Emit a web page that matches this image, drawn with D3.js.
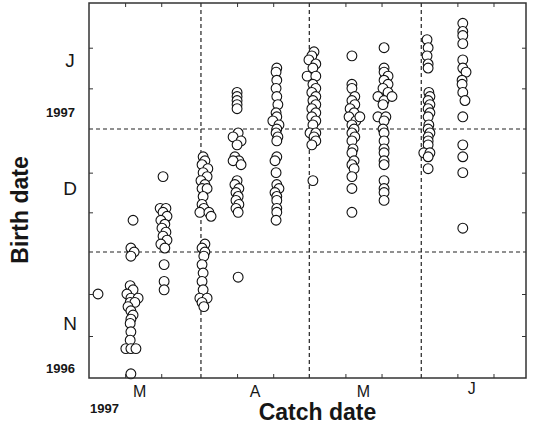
<!DOCTYPE html>
<html>
<head>
<meta charset="utf-8">
<script src="https://cdn.jsdelivr.net/npm/d3@7"></script>
<style>
  body { margin: 0; background: #fff; }
  svg { display: block; }
  text { font-family: "Liberation Sans", Arial, Helvetica, sans-serif; fill: #161616; }
</style>
</head>
<body>
<svg id="chart" width="533" height="434"></svg>
<script>
// Each fish: [catch day after 1 Mar 1997, birth day after 1 Jan 1997 (negative = 1996)]
const sampleMar03 = [[2.5,-41]];
const sampleMar12 = [[12.2,-23],[11.6,-30],[12.5,-31],[11.6,-32],[11.4,-39],[12.2,-40],[10.5,-41],[11.6,-42],[13.6,-42],[11.4,-43],[12.7,-43],[10.8,-44],[11.6,-45],[12.2,-46],[11.6,-47],[11.4,-48],[11.6,-50],[11.4,-52],[10.2,-54],[11.6,-54],[13.0,-54],[11.6,-60]];
const sampleMar22 = [[20.5,-12],[19.7,-20],[21.3,-20],[20.5,-21],[21.6,-22],[19.9,-23],[21.0,-24],[20.2,-25],[21.3,-26],[20.5,-27],[21.6,-28],[19.9,-29],[21.0,-30],[20.8,-34],[20.8,-38],[20.8,-40]];
const sampleApr02 = [[31.6,-7],[32.1,-8],[31.3,-9],[32.9,-10],[31.6,-11],[32.7,-12],[31.0,-13],[32.1,-14],[31.3,-15],[32.7,-15],[31.6,-17],[31.3,-19],[31.8,-20],[30.7,-21],[33.2,-21],[33.8,-22],[32.1,-29],[31.3,-30],[32.1,-31],[31.8,-32],[31.3,-34],[31.6,-36],[31.3,-38],[31.6,-40],[30.7,-42],[32.7,-42],[31.3,-43],[31.8,-44]];
const sampleApr11 = [[41.0,9],[41.0,8],[41.0,7],[41.0,6],[41.0,5],[41.3,-1],[39.9,-2],[42.1,-3],[41.0,-4],[40.4,-7],[41.5,-8],[39.9,-8],[42.1,-9],[41.0,-13],[40.4,-14],[41.5,-15],[40.7,-16],[41.3,-17],[40.7,-18],[41.5,-19],[40.7,-20],[41.3,-21],[41.3,-37]];
const sampleApr22 = [[52.0,15],[51.8,14],[52.0,12],[51.8,10],[52.0,8],[52.3,6],[51.8,4],[52.0,3],[50.9,2],[52.6,1],[52.0,0],[51.8,-1],[52.3,-2],[52.0,-3],[52.0,-7],[51.5,-8],[51.8,-11],[52.0,-14],[52.6,-15],[51.5,-16],[52.0,-17],[52.0,-18],[52.0,-20],[52.0,-21],[51.8,-23]];
const sampleMay02 = [[62.3,19],[61.7,18],[60.9,17],[62.8,16],[62.0,15],[60.4,13],[62.8,13],[62.0,11],[62.8,10],[61.7,9],[62.8,8],[62.0,7],[62.8,6],[61.7,5],[62.8,4],[61.7,3],[62.8,2],[62.0,1],[61.2,-1],[62.8,-1],[62.3,-2],[62.8,-3],[61.7,-4],[62.0,-13]];
const sampleMay13 = [[72.8,18],[72.8,11],[72.8,10],[73.6,8],[72.8,7],[73.6,6],[72.3,5],[73.4,4],[72.0,3],[73.9,2],[75.0,3],[72.8,1],[73.4,0],[72.8,-1],[73.6,-2],[72.8,-3],[73.1,-5],[72.8,-6],[73.4,-8],[72.8,-9],[73.4,-10],[72.8,-12],[72.8,-15],[72.8,-21]];
const sampleMay22 = [[81.7,20],[81.7,15],[81.7,14],[82.8,13],[81.7,12],[82.8,11],[81.4,10],[82.8,9],[80.0,8],[81.7,7],[83.9,8],[81.4,6],[80.0,3],[82.2,3],[81.7,2],[81.4,0],[81.7,-1],[81.7,-3],[81.7,-5],[81.7,-6],[81.7,-8],[81.7,-9],[81.7,-13],[81.7,-15],[81.7,-16],[81.7,-18]];
const sampleJun02 = [[93.6,22],[93.9,20],[93.6,18],[93.9,16],[93.9,15],[94.1,9],[94.4,8],[93.9,7],[94.4,6],[93.9,5],[94.4,4],[93.9,3],[94.1,1],[93.9,0],[94.4,-1],[93.9,-2],[93.9,-3],[93.9,-4],[92.7,-6],[94.4,-6],[93.9,-7],[93.9,-10]];
const sampleJun12 = [[103.5,26],[103.5,24],[103.5,23],[103.5,21],[103.5,17],[103.5,15],[104.4,14],[103.3,12],[103.3,11],[103.5,9],[104.1,7],[103.5,3],[103.5,-4],[103.5,-7],[103.5,-11],[103.5,-25]];

const samples = [sampleMar03, sampleMar12, sampleMar22, sampleApr02, sampleApr11, sampleApr22,
                 sampleMay02, sampleMay13, sampleMay22, sampleJun02, sampleJun12];

// Axis furniture
const xDomain = ["1997-03-01", "1997-06-30"];
const yDomain = ["1996-11-01", "1996-12-01", "1997-01-01", "1997-02-01"];
const xMinorTicks = ["1997-03-11","1997-03-21","1997-04-11","1997-04-21","1997-05-11","1997-05-21","1997-06-11","1997-06-21"];
const yMinorTicks = ["1996-11-11","1996-11-21","1996-12-11","1996-12-21","1997-01-11","1997-01-21"];
const xMonthBreaks = ["1997-04-01","1997-05-01","1997-06-01"];
const yMonthBreaks = ["1996-12-01","1997-01-01"];
const xMonthLabels = ["M","A","M","J"];
const xMonthLabelDates = ["1997-03-15","1997-04-16","1997-05-16","1997-06-15"];
const yMonthLabels = ["N","D","J"];
const yMonthLabelDates = ["1996-11-14","1996-12-17","1997-01-18"];
const yYearLabels = ["1996","1997"];
const yYearLabelDates = ["1996-11-01","1997-01-01"];
const xYearLabel = "1997";
const xTitle = "Catch date";
const yTitle = "Birth date";

const parse = d3.utcParse("%Y-%m-%d");
const catchOrigin = parse("1997-03-01");
const birthOrigin = parse("1997-01-01");
const DAY = 864e5;

const W = 533, H = 434;
const margin = { top: 3, right: 7, bottom: 56, left: 89 };
const width = W - margin.left - margin.right;
const height = H - margin.top - margin.bottom;

const x = d3.scaleUtc().domain(xDomain.map(parse)).range([0, width]);
// Month-by-month axis: each month gets its own span on the birth-date axis
const yRange = [height, height - 126, height - 249, 0];
const y = d3.scaleUtc().domain(yDomain.map(parse)).range(yRange);

const svg = d3.select("#chart");
const g = svg.append("g").attr("transform", `translate(${margin.left},${margin.top})`);

// Month boundaries
const dash = "4,3";
g.selectAll(".vbreak").data(xMonthBreaks.map(parse)).join("line")
  .attr("x1", d => x(d)).attr("x2", d => x(d))
  .attr("y1", 0).attr("y2", height)
  .attr("stroke", "#222").attr("stroke-width", 1.2).attr("stroke-dasharray", dash);
g.selectAll(".hbreak").data(yMonthBreaks.map(parse)).join("line")
  .attr("x1", 0).attr("x2", width)
  .attr("y1", d => y(d)).attr("y2", d => y(d))
  .attr("stroke", "#222").attr("stroke-width", 1.2).attr("stroke-dasharray", dash);

// Inward tick marks on all four sides
const tickLen = 4;
function styleAxis(sel) {
  sel.select(".domain").remove();
  sel.selectAll(".tick line").attr("stroke", "#333").attr("stroke-width", 1);
}
g.append("g").attr("transform", `translate(0,${height})`)
  .call(d3.axisBottom(x).tickValues(xMinorTicks.map(parse)).tickSize(-tickLen).tickSizeOuter(0).tickFormat(""))
  .call(styleAxis);
g.append("g")
  .call(d3.axisTop(x).tickValues(xMinorTicks.map(parse)).tickSize(-tickLen).tickSizeOuter(0).tickFormat(""))
  .call(styleAxis);
g.append("g")
  .call(d3.axisLeft(y).tickValues(yMinorTicks.map(parse)).tickSize(-tickLen).tickSizeOuter(0).tickFormat(""))
  .call(styleAxis);
g.append("g").attr("transform", `translate(${width},0)`)
  .call(d3.axisRight(y).tickValues(yMinorTicks.map(parse)).tickSize(-tickLen).tickSizeOuter(0).tickFormat(""))
  .call(styleAxis);

// Fish
const points = samples.flat().map(([c, b]) => ({
  caught: new Date(catchOrigin.getTime() + c * DAY),
  born: new Date(birthOrigin.getTime() + b * DAY)
}));
g.selectAll(".fish").data(points).join("circle")
  .attr("cx", d => x(d.caught))
  .attr("cy", d => y(d.born))
  .attr("r", 4.9)
  .attr("fill", "#fff")
  .attr("stroke", "#111")
  .attr("stroke-width", 1.1);

// Frame
g.append("rect").attr("x", 0).attr("y", 0).attr("width", width).attr("height", height)
  .attr("fill", "none").attr("stroke", "#333").attr("stroke-width", 1.5);

// Month letters
g.selectAll(".xm").data(xMonthLabels).join("text")
  .attr("x", (d, i) => x(parse(xMonthLabelDates[i])))
  .attr("y", (d, i) => height + (d === "J" ? 16 : 19))
  .attr("text-anchor", "middle")
  .attr("font-size", 16)
  .text(d => d);
g.selectAll(".ym").data(yMonthLabels).join("text")
  .attr("x", -19)
  .attr("y", (d, i) => y(parse(yMonthLabelDates[i])))
  .attr("dy", "0.36em")
  .attr("text-anchor", "middle")
  .attr("font-size", 19)
  .text(d => d);

// Year markers
g.selectAll(".yy").data(yYearLabels).join("text")
  .attr("x", -14)
  .attr("y", (d, i) => y(parse(yYearLabelDates[i])) - (i === 0 ? 5 : 12))
  .attr("text-anchor", "end")
  .attr("font-size", 13)
  .attr("font-weight", "bold")
  .text(d => d);
g.append("text")
  .attr("x", 1)
  .attr("y", height + 35)
  .attr("font-size", 13)
  .attr("font-weight", "bold")
  .text(xYearLabel);

// Titles
g.append("text")
  .attr("x", width / 2 + 10)
  .attr("y", height + 42)
  .attr("text-anchor", "middle")
  .attr("font-size", 23)
  .attr("font-weight", "bold")
  .text(xTitle);
g.append("text")
  .attr("transform", `translate(${-margin.left + 28},${y(parse("1996-12-01")) - 42}) rotate(-90)`)
  .attr("text-anchor", "middle")
  .attr("font-size", 23)
  .attr("font-weight", "bold")
  .text(yTitle);
</script>
</body>
</html>
